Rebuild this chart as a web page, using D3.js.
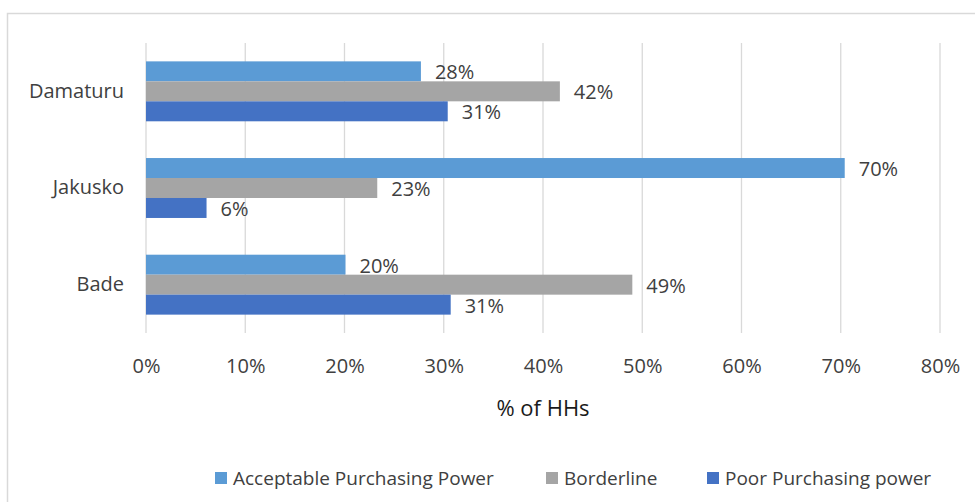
<!DOCTYPE html>
<html>
<head>
<meta charset="utf-8">
<script src="https://cdn.jsdelivr.net/npm/d3@7"></script>
<style>
body { margin:0; background:#fff; }
svg { font-family: "Open Sans", "Noto Sans", sans-serif; }
</style>
</head>
<body>
<svg id="chart"></svg>
<script>
var categories = ["Damaturu","Jakusko","Bade"];
var seriesNames = ["Acceptable Purchasing Power","Borderline","Poor Purchasing power"];
var seriesColors = ["#5B9BD5","#A5A5A5","#4472C4"];
var acceptable = [27.7, 70.4, 20.1];
var borderline = [41.7, 23.3, 49.0];
var poor = [30.4, 6.1, 30.7];
var valueLabels = [["28%","42%","31%"],["70%","23%","6%"],["20%","49%","31%"]];
var xTicks = [0,10,20,30,40,50,60,70,80];

var screen = {width:975, height:502};
var svg = d3.select("#chart")
    .attr("width",screen.width)
    .attr("height",screen.height);

// chart frame, cut off at right and bottom like the original
svg.append("rect")
    .attr("x",7.5).attr("y",13.5)
    .attr("width",1000).attr("height",600)
    .attr("fill","none")
    .attr("stroke","#d9d9d9")
    .attr("stroke-width",1.5);

var xScale = d3.scaleLinear()
    .domain([0,80])
    .range([146,940]);

var yScale = d3.scaleBand()
    .domain(categories)
    .range([43,333])
    .paddingInner(0.38)
    .paddingOuter(0.19);

var subScale = d3.scaleBand()
    .domain(seriesNames)
    .range([0,yScale.bandwidth()]);

// gridlines
svg.append("g")
    .selectAll("line")
    .data(xTicks)
    .enter()
    .append("line")
    .attr("x1",function(d){ return xScale(d); })
    .attr("x2",function(d){ return xScale(d); })
    .attr("y1",43)
    .attr("y2",333)
    .attr("stroke","#d9d9d9")
    .attr("stroke-width",1.3);

var rows = categories.map(function(c,i)
{
    return [acceptable[i],borderline[i],poor[i]].map(function(v,j)
    {
        return {cat:c, series:seriesNames[j], value:v, color:seriesColors[j], label:valueLabels[i][j]};
    });
});
var flat = [].concat.apply([],rows);

svg.append("g")
    .selectAll("rect")
    .data(flat)
    .enter()
    .append("rect")
    .attr("x",xScale(0))
    .attr("y",function(d){ return yScale(d.cat)+subScale(d.series); })
    .attr("width",function(d){ return xScale(d.value)-xScale(0); })
    .attr("height",subScale.bandwidth())
    .attr("fill",function(d){ return d.color; });

svg.append("g")
    .selectAll("text")
    .data(flat)
    .enter()
    .append("text")
    .attr("x",function(d){ return xScale(d.value)+14; })
    .attr("y",function(d){ return yScale(d.cat)+subScale(d.series)+subScale.bandwidth()/2+1; })
    .attr("dy","0.35em")
    .attr("font-size",20)
    .attr("fill","#404040")
    .text(function(d){ return d.label; });

// y axis labels
var yAxis = d3.axisLeft(yScale).tickSize(0).tickPadding(22);
var yG = svg.append("g")
    .attr("transform","translate(146,0)")
    .call(yAxis);
yG.select(".domain").remove();
yG.selectAll("text")
    .attr("font-size",20)
    .attr("font-family","'Open Sans', 'Noto Sans', sans-serif")
    .attr("fill","#404040");

// x axis labels
var xAxis = d3.axisBottom(xScale)
    .tickValues(xTicks)
    .tickFormat(function(d){ return d+"%"; })
    .tickSize(0)
    .tickPadding(12);
var xG = svg.append("g")
    .attr("transform","translate(0,347)")
    .call(xAxis);
xG.select(".domain").remove();
xG.selectAll("text")
    .attr("font-size",20)
    .attr("font-family","'Open Sans', 'Noto Sans', sans-serif")
    .attr("fill","#404040");

svg.append("text")
    .attr("x",(xScale(0)+xScale(80))/2)
    .attr("y",408)
    .attr("dy","0.35em")
    .attr("text-anchor","middle")
    .attr("font-size",22)
    .attr("fill","#1a1a1a")
    .text("% of HHs");

// legend
var legendX = [215,546,707];
var legend = svg.append("g")
    .selectAll("g")
    .data(seriesNames)
    .enter()
    .append("g")
    .attr("transform",function(d,i){ return "translate("+legendX[i]+",478)"; });
legend.append("rect")
    .attr("x",0).attr("y",-6)
    .attr("width",12).attr("height",12)
    .attr("fill",function(d,i){ return seriesColors[i]; });
legend.append("text")
    .attr("x",18)
    .attr("dy","0.35em")
    .attr("font-size",19)
    .attr("fill","#404040")
    .text(function(d){ return d; });
</script>
</body>
</html>
